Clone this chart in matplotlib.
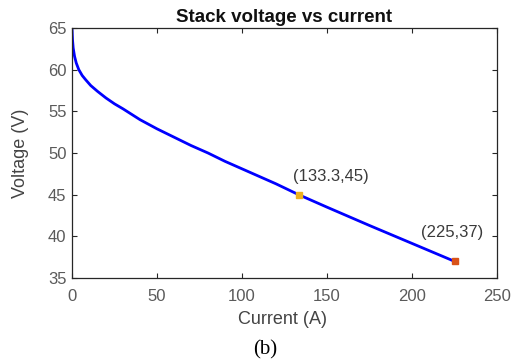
import matplotlib
matplotlib.use("Agg")
import matplotlib.pyplot as plt

plt.rcParams['font.family'] = ['Liberation Sans', 'DejaVu Sans']

# Stack polarization curve
current = [0, 0.3, 0.7, 1.5, 2.5, 4, 6, 8, 11, 15, 20, 25, 30, 40, 50, 60, 70,
           80, 90, 100, 110, 120, 133.3, 150, 175, 200, 225]
voltage = [65.0, 63.6, 62.6, 61.6, 60.8, 60.0, 59.3, 58.8, 58.1, 57.4, 56.6, 55.9,
           55.3, 54.0, 52.9, 51.9, 50.9, 50.0, 49.0, 48.1, 47.2, 46.3, 45.0, 43.5,
           41.3, 39.15, 37.0]

# Highlighted operating points
nominal = (133.3, 45)
maximum = (225, 37)

xticks = [0, 50, 100, 150, 200, 250]
yticks = [35, 40, 45, 50, 55, 60, 65]

W, H = 522, 364
fig = plt.figure(figsize=(W / 100, H / 100), dpi=100)
ax = fig.add_axes([72 / W, (H - 278) / H, 425 / W, 250 / H])

ax.plot(current, voltage, color='#0000ff', lw=2.0, solid_capstyle='butt', zorder=2)
ax.plot([nominal[0]], [nominal[1]], 's', color='#EDB120', ms=4.5, mec='#EDB120', zorder=3)
ax.plot([maximum[0]], [maximum[1]], 's', color='#D95319', ms=4.5, mec='#D95319', zorder=3)

ax.text(130, 47.2, '(133.3,45)', fontsize=12, color='#3a3a3a', ha='left', va='center')
ax.text(205.5, 40.4, '(225,37)', fontsize=12, color='#3a3a3a', ha='left', va='center')

ax.set_xlim(0, 250)
ax.set_ylim(35, 65)
ax.set_xticks(xticks)
ax.set_yticks(yticks)
ax.tick_params(direction='in', length=3.5, width=0.8, top=True, right=True,
               labelsize=12, colors='#262626', labelcolor='#5a5a5a')
ax.tick_params(axis='y', pad=4)
ax.tick_params(axis='x', pad=8)
for s in ax.spines.values():
    s.set_color('#262626')
    s.set_linewidth(0.9)

ax.set_title('Stack voltage vs current', fontsize=13.5, fontweight='bold',
             color='#111111', pad=4)

fig.text(283 / W, 1 - 320 / H, 'Current (A)', fontsize=13, color='#444444',
         ha='center', va='center')
fig.text(21 / W, 1 - 153 / H, 'Voltage (V)', fontsize=13, color='#444444',
         ha='center', va='center', rotation=90)
fig.text(265 / W, 1 - 350 / H, '(b)', fontsize=15, family='Liberation Serif',
         ha='center', va='center', color='black')

fig.savefig('out.png', dpi=100)
